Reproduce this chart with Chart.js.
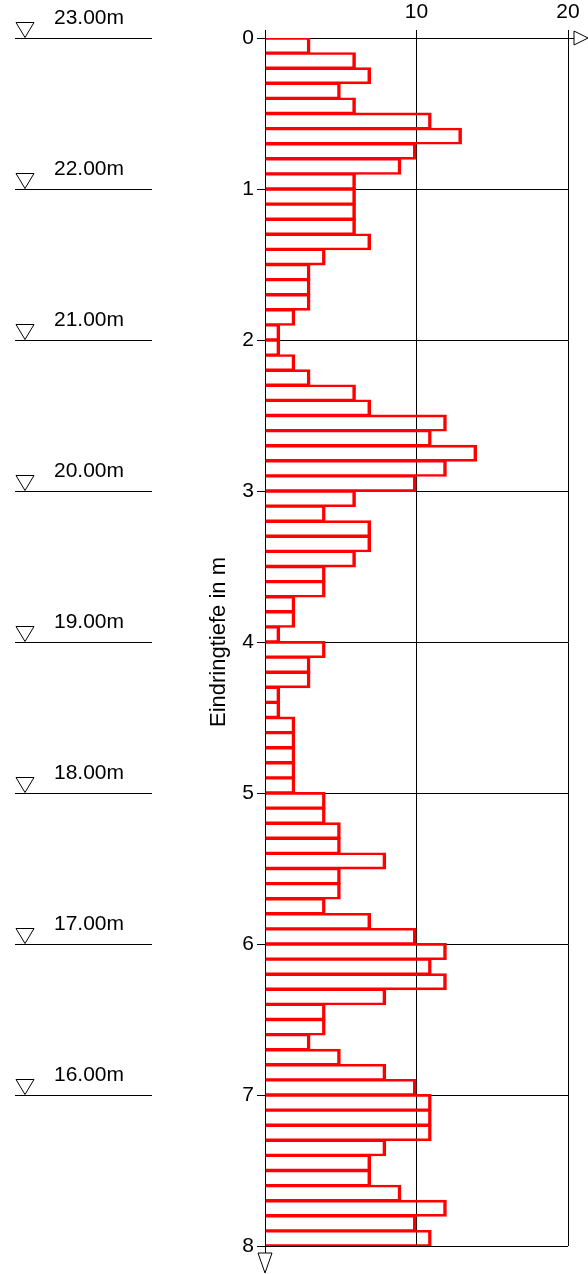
<!DOCTYPE html>
<html>
<head>
<meta charset="utf-8">
<script src="https://cdn.jsdelivr.net/npm/chart.js@4/dist/chart.umd.min.js"></script>
<style>
  html, body { margin: 0; padding: 0; background: #fff; }
  #wrap { width: 588px; height: 1274px; position: relative; }
</style>
</head>
<body>
<div id="wrap"><canvas id="c"></canvas></div>
<script>
// Blow counts per 10 cm penetration, from 0.0 m down to 8.0 m
const layerThickness = 0.1;
const blowCounts = [
  3, 6, 7, 5, 6, 11, 13, 10, 9, 6,
  6, 6, 6, 7, 4, 3, 3, 3, 2, 1,
  1, 2, 3, 6, 7, 12, 11, 14, 12, 10,
  6, 4, 7, 7, 6, 4, 4, 2, 2, 1,
  4, 3, 3, 1, 1, 2, 2, 2, 2, 2,
  4, 4, 5, 5, 8, 5, 5, 4, 7, 10,
  12, 11, 12, 8, 4, 4, 3, 5, 8, 10,
  11, 11, 11, 8, 7, 7, 9, 12, 10, 11
];
const depthTicks = [0, 1, 2, 3, 4, 5, 6, 7, 8];
const blowTicks = [0, 10, 20];
// Elevation marks beside the profile (height at each full metre)
const elevationDepths = [0, 1, 2, 3, 4, 5, 6, 7];
const elevationLabels = ['23.00m', '22.00m', '21.00m', '20.00m', '19.00m', '18.00m', '17.00m', '16.00m'];

const FONT = "'Liberation Sans', Arial, Helvetica, sans-serif";

const points = blowCounts.map((v, i) => ({ x: v, y: (i + 0.5) * layerThickness }));

const sidePlugin = {
  id: 'sideMarks',
  afterDraw(chart) {
    const ctx = chart.ctx;
    const xs = chart.scales.x, ys = chart.scales.y;
    const x0 = xs.getPixelForValue(0);
    const xEnd = xs.getPixelForValue(blowTicks[blowTicks.length - 1]);
    const yTop = ys.getPixelForValue(0);
    const yEnd = ys.getPixelForValue(depthTicks[depthTicks.length - 1]);
    ctx.save();
    ctx.strokeStyle = '#000';
    ctx.lineWidth = 1;
    ctx.fillStyle = '#fff';

    // axis extensions with arrow heads
    ctx.beginPath();
    ctx.moveTo(xEnd, Math.round(yTop) + 0.5);
    ctx.lineTo(xEnd + 6, Math.round(yTop) + 0.5);
    ctx.stroke();
    ctx.beginPath();
    ctx.moveTo(xEnd + 6, yTop - 7);
    ctx.lineTo(xEnd + 20, yTop);
    ctx.lineTo(xEnd + 6, yTop + 7);
    ctx.closePath();
    ctx.fill(); ctx.stroke();

    ctx.beginPath();
    ctx.moveTo(Math.round(x0) + 0.5, yEnd);
    ctx.lineTo(Math.round(x0) + 0.5, yEnd + 7);
    ctx.stroke();
    ctx.beginPath();
    ctx.moveTo(x0 - 7, yEnd + 7);
    ctx.lineTo(x0 + 7, yEnd + 7);
    ctx.lineTo(x0, yEnd + 27);
    ctx.closePath();
    ctx.fill(); ctx.stroke();

    // elevation marks
    ctx.font = '21px ' + FONT;
    ctx.textAlign = 'left';
    ctx.textBaseline = 'alphabetic';
    elevationDepths.forEach((d, i) => {
      const y = Math.round(ys.getPixelForValue(d)) + 0.5;
      ctx.strokeStyle = '#000';
      ctx.beginPath();
      ctx.moveTo(15, y);
      ctx.lineTo(152, y);
      ctx.stroke();
      ctx.fillStyle = '#fff';
      ctx.beginPath();
      ctx.moveTo(16, y - 16);
      ctx.lineTo(34, y - 16);
      ctx.lineTo(25, y - 1);
      ctx.closePath();
      ctx.fill(); ctx.stroke();
      ctx.fillStyle = '#000';
      ctx.fillText(elevationLabels[i], 54, y - 14.5);
    });
    ctx.restore();
  }
};

new Chart(document.getElementById('c'), {
  type: 'bar',
  data: {
    datasets: [{
      data: points,
      backgroundColor: 'rgba(0,0,0,0)',
      borderColor: '#ff0000',
      // neighbouring layers overlap slightly so their shared edges merge into one solid line
      borderWidth: { top: 2.6, bottom: 2.6, right: 3.5, left: 0 },
      borderSkipped: 'start',
      categoryPercentage: 1,
      barPercentage: 1.12
    }]
  },
  options: {
    indexAxis: 'y',
    responsive: true,
    maintainAspectRatio: false,
    animation: false,
    events: [],
    layout: { padding: { left: 200, right: 20, top: 0, bottom: 28 } },
    plugins: { legend: { display: false }, tooltip: { enabled: false } },
    scales: {
      x: {
        type: 'linear',
        position: 'top',
        min: 0,
        max: 20,
        afterBuildTicks(scale) { scale.ticks = blowTicks.map(v => ({ value: v })); },
        afterFit(scale) { scale.height = 38; },
        ticks: {
          color: '#000',
          font: { family: FONT, size: 21 },
          padding: 5,
          maxRotation: 0,
          callback: v => (v === 0 ? '' : String(v))
        },
        grid: { color: '#000', lineWidth: 1, drawTicks: true, tickLength: 8 },
        border: { display: true, color: '#000', width: 1 }
      },
      y: {
        type: 'linear',
        position: 'left',
        reverse: true,
        offset: false,
        min: 0,
        max: 8,
        afterBuildTicks(scale) { scale.ticks = depthTicks.map(v => ({ value: v })); },
        afterFit(scale) { scale.width = 65; },
        ticks: {
          color: '#000',
          font: { family: FONT, size: 21 },
          padding: 3
        },
        grid: { color: '#000', lineWidth: 1, offset: false, drawTicks: true, tickLength: 8 },
        border: { display: true, color: '#000', width: 1 },
        title: {
          display: true,
          text: 'Eindringtiefe in m',
          color: '#000',
          font: { family: FONT, size: 22 },
          padding: { top: 6, bottom: 0 }
        }
      }
    }
  },
  plugins: [sidePlugin]
});
</script>
</body>
</html>
